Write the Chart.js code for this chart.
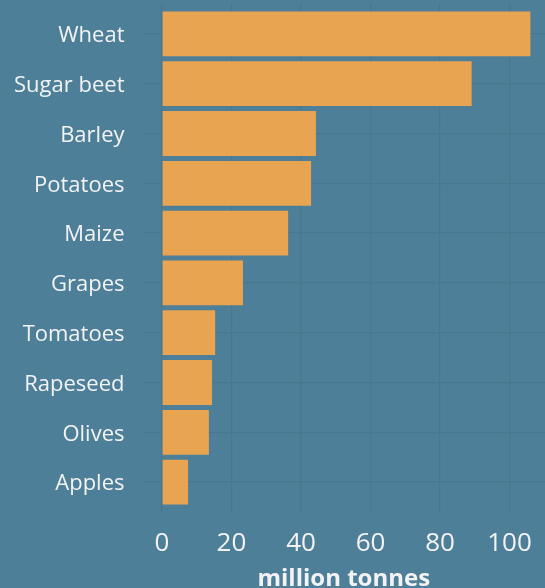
<!DOCTYPE html>
<html>
<head>
<meta charset="utf-8">
<script src="https://cdn.jsdelivr.net/npm/chart.js@4"></script>
<style>
  html, body { margin: 0; padding: 0; background: #4e7f99; overflow: hidden; }
  #wrap { width: 545px; height: 596px; position: relative; }
</style>
</head>
<body>
<div id="wrap"><canvas id="myChart"></canvas></div>
<script>
// crops, largest first
var crops = ['Wheat', 'Sugar beet', 'Barley', 'Potatoes', 'Maize', 'Grapes', 'Tomatoes', 'Rapeseed', 'Olives', 'Apples'];
var production = [106, 89.1, 44.3, 42.9, 36.3, 23.3, 15.3, 14.4, 13.5, 7.5];
var xTicks = [0, 20, 40, 60, 80, 100];

var textColor = '#f3f3f3';
var gridColor = '#4a7790';

var ctx = document.getElementById('myChart').getContext('2d');
var chart = new Chart(ctx, {
    type: 'bar',
    data: {
        datasets: [{
            data: crops.map(function (c, i) { return { x: production[i], y: i }; }),
            backgroundColor: '#e9a452',
            borderWidth: 0,
            barPercentage: 0.9,
            categoryPercentage: 1
        }]
    },
    options: {
        indexAxis: 'y',
        responsive: true,
        maintainAspectRatio: false,
        animation: false,
        layout: { padding: { top: 4, right: 0, bottom: 0, left: 0 } },
        plugins: { legend: { display: false }, tooltip: { enabled: false } },
        scales: {
            x: {
                type: 'linear',
                min: -5.6,
                max: 110.2,
                afterBuildTicks: function (axis) {
                    axis.ticks = xTicks.map(function (v) { return { value: v }; });
                },
                afterFit: function (axis) {
                    axis.height = 84;
                    axis.paddingLeft = 0;
                    axis.paddingRight = 0;
                },
                grid: { color: gridColor, lineWidth: 1.3, drawTicks: false },
                border: { display: false },
                ticks: {
                    color: textColor,
                    padding: 16,
                    maxRotation: 0,
                    font: { family: 'Open Sans', size: 26 }
                },
                title: {
                    display: true,
                    text: 'million tonnes',
                    color: textColor,
                    padding: { top: 0, bottom: 2 },
                    font: { family: 'Open Sans', size: 24, weight: 'bold' }
                }
            },
            y: {
                type: 'linear',
                reverse: true,
                offset: false,
                min: -0.6,
                max: 9.6,
                afterBuildTicks: function (axis) {
                    axis.ticks = crops.map(function (c, i) { return { value: i }; });
                },
                afterFit: function (axis) {
                    axis.width = 142.5;
                    axis.paddingTop = 0;
                    axis.paddingBottom = 0;
                },
                grid: { color: gridColor, lineWidth: 1.3, drawTicks: false, offset: false },
                border: { display: false },
                ticks: {
                    color: textColor,
                    padding: 18,
                    labelOffset: 2,
                    autoSkip: false,
                    font: { family: 'Open Sans', size: 22 },
                    callback: function (v) { return crops[v]; }
                }
            }
        }
    }
});
</script>
</body>
</html>
